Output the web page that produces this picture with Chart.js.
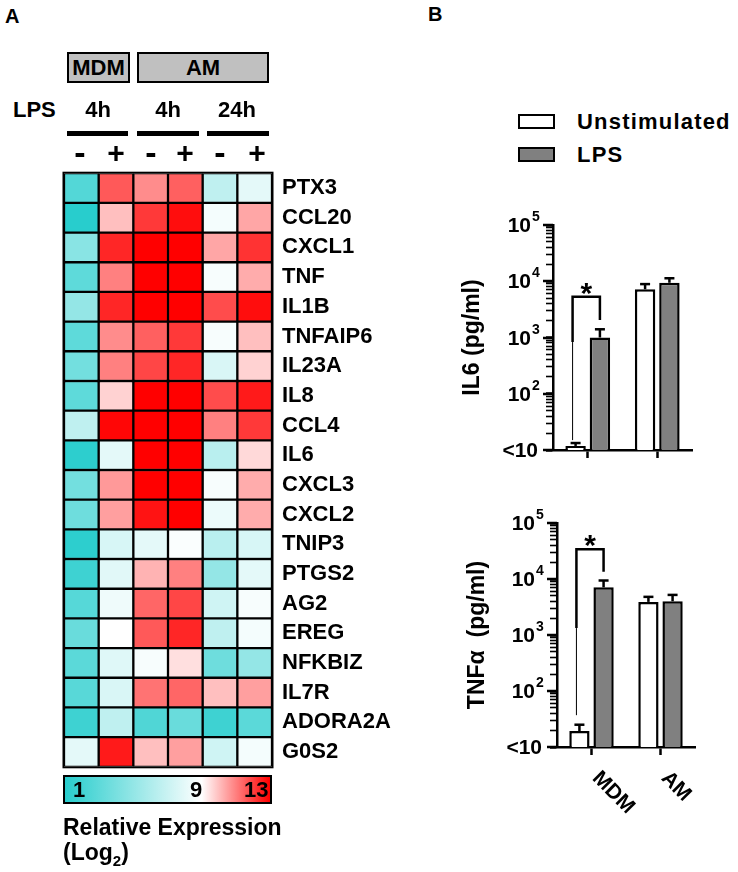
<!DOCTYPE html>
<html>
<head>
<meta charset="utf-8">
<script src="https://cdn.jsdelivr.net/npm/chart.js@4.4.1/dist/chart.umd.min.js"></script>
<style>
body { margin: 0; background: #fff; }
#fig { position: relative; width: 738px; height: 872px; overflow: hidden;
       font-family: "Liberation Sans", Arial, sans-serif; font-weight: bold; color: #000; }
.t { position: absolute; white-space: nowrap; line-height: 1; }
.box { position: absolute; box-sizing: border-box; border: 2px solid #000; }
canvas { position: absolute; }
</style>
</head>
<body>
<div id="fig">
  <canvas id="heat" width="430" height="640" style="left:0;top:150px"></canvas>
  <canvas id="il6" width="298" height="290" style="left:440px;top:200px"></canvas>
  <canvas id="tnf" width="298" height="372" style="left:440px;top:500px"></canvas>
</div>
<script>
// ---- heatmap data (log2 relative expression, 1..13) ----
const genes = ["PTX3", "CCL20", "CXCL1", "TNF", "IL1B", "TNFAIP6", "IL23A", "IL8", "CCL4", "IL6",
               "CXCL3", "CXCL2", "TNIP3", "PTGS2", "AG2", "EREG", "NFKBIZ", "IL7R", "ADORA2A", "G0S2"];
const mdm4hUnstim = [2.6, 1.0, 4.6, 3.0, 5.0, 3.0, 3.8, 3.0, 6.6, 1.2, 3.8, 3.6, 1.2, 1.8, 2.7, 3.4, 2.9, 2.8, 1.8, 8.0];
const mdm4hLps    = [11.6, 10.0, 12.4, 11.0, 12.4, 10.8, 11.0, 9.7, 12.9, 8.0, 10.6, 10.5, 7.5, 7.9, 8.4, 9.0, 7.8, 7.6, 6.6, 12.6];
const am4hUnstim  = [10.8, 12.1, 13, 13, 13, 11.5, 11.9, 13, 13, 13, 13, 12.7, 8.0, 10.2, 11.4, 11.6, 8.7, 11.2, 2.5, 10.0];
const am4hLps     = [11.5, 12.8, 13, 13, 13, 12.1, 12.4, 13, 13, 13, 13, 13, 8.8, 11.0, 11.9, 12.4, 9.5, 11.4, 3.4, 10.5];
const am24hUnstim = [6.6, 8.6, 10.4, 8.7, 11.8, 8.7, 7.6, 11.8, 11.0, 6.4, 8.7, 8.3, 6.4, 5.0, 7.2, 6.6, 3.6, 10.0, 1.8, 7.2];
const am24hLps    = [8.0, 10.4, 12.2, 10.3, 12.8, 10.0, 9.7, 12.6, 12.1, 9.6, 10.3, 10.3, 7.5, 8.0, 8.7, 8.6, 5.0, 10.5, 2.9, 8.6];
const heatColumns = [mdm4hUnstim, mdm4hLps, am4hUnstim, am4hLps, am24hUnstim, am24hLps];

// ---- cytokine data (pg/ml) ----
const cellTypes = ["MDM", "AM"];
const il6Unstim = [11.8, 7200];
const il6Lps = [1000, 9400];
const il6UnstimErr = [13.3, 8900];
const il6LpsErr = [1400, 11300];
const tnfUnstim = [19.3, 3900];
const tnfLps = [7100, 4000];
const tnfUnstimErr = [25, 4800];
const tnfLpsErr = [9400, 5200];
// significance bracket: top, right leg end, left leg end, thin line end
const il6Bracket = [5300, 2040, 830, 15];
const tnfBracket = [34000, 13500, 1330, 37];

const yMajor = [10, 100, 1000, 10000, 100000];
const yTickBase = ["<10", "10", "10", "10", "10"];
const yTickExp = ["", "2", "3", "4", "5"];

const FONT = '"Liberation Sans", Arial, sans-serif';
Chart.defaults.font.family = FONT;
Chart.defaults.color = "#000";

const TEAL = [40, 205, 205], WHITE = [255, 255, 255], RED = [255, 0, 0];
function exprColor(v) {
    let a, b, t;
    if (v <= 9) { a = TEAL; b = WHITE; t = (v - 1) / 8; }
    else { a = WHITE; b = RED; t = (v - 9) / 4; }
    const c = a.map((x, i) => Math.round(x + (b[i] - x) * t));
    return `rgb(${c.join(",")})`;
}

// ---- static text / boxes ----
const fig = document.getElementById("fig");
function put(html, x, cy, size, align = "left", extra = "") {
    const d = document.createElement("div");
    d.className = "t";
    d.innerHTML = html;
    d.style.cssText += `font-size:${size}px;top:${cy - size / 2}px;` + extra;
    if (align === "center") {
        d.style.left = (x - 100) + "px"; d.style.width = "200px"; d.style.textAlign = "center";
    } else d.style.left = x + "px";
    fig.appendChild(d);
}
function box(x, y, w, h, bg) {
    const d = document.createElement("div");
    d.className = "box";
    d.style.cssText += `left:${x}px;top:${y}px;width:${w}px;height:${h}px;background:${bg};`;
    fig.appendChild(d);
    return d;
}

put("A", 5, 16, 20);
put("B", 428, 14, 20);
box(67, 52, 63, 31, "#c0c0c0");
box(137, 52, 132, 31, "#c0c0c0");
put("MDM", 98.5, 68, 22, "center");
put("AM", 203, 68, 22, "center");
put("LPS", 13, 110, 22);
put("4h", 98, 110, 22, "center");
put("4h", 168, 110, 22, "center");
put("24h", 237, 110, 22, "center");
[[67, 61], [137, 62], [207, 62]].forEach(([x, w]) => box(x, 131, w, 5, "#000"));
[80, 151, 220].forEach(x => put("-", x, 152, 34, "center"));
[116, 185, 257].forEach(x => put("+", x, 153, 30, "center"));

box(63, 775, 209, 29, `linear-gradient(to right, rgb(${TEAL}) 0%, #fff 66.7%, #f00 100%)`);
put("1", 73, 790, 22);
put("9", 196, 790, 22, "center");
put("13", 244, 790, 22);
put("Relative Expression", 63, 827, 23);
put("(Log<sub style='font-size:15px'>2</sub>)", 63, 852, 23);

box(518, 114, 37, 15, "#fff");
box(518, 147, 37, 15, "#808080");
put("Unstimulated", 577, 122, 22, "left", "letter-spacing:1.2px;");
put("LPS", 577, 155, 22, "left", "letter-spacing:1.2px;");

// ---- heatmap ----
new Chart(document.getElementById("heat"), {
    type: "bar",
    data: {
        labels: genes,
        datasets: heatColumns.map(col => ({
            data: genes.map(() => 1),
            backgroundColor: col.map(exprColor),
            borderColor: "#000",
            borderWidth: 1.5,
            borderSkipped: false,
            barPercentage: 1,
            categoryPercentage: 1,
        })),
    },
    options: {
        indexAxis: "y",
        responsive: false,
        animation: false,
        layout: { padding: { left: 64, top: 16, bottom: 22, right: 18 } },
        plugins: { legend: { display: false }, tooltip: { enabled: false } },
        scales: {
            x: { stacked: true, min: 0, max: 6, display: false },
            y: {
                stacked: true,
                position: "right",
                grid: { display: false, drawTicks: false },
                border: { display: false },
                ticks: { font: { size: 22, weight: "bold" }, color: "#000", padding: 10 },
                afterFit(axis) { axis.width = 140; },
            },
        },
    },
    plugins: [{
        id: "frame",
        afterDatasetsDraw(chart) {
            const { ctx, chartArea: a } = chart;
            ctx.save();
            ctx.strokeStyle = "#000";
            ctx.lineWidth = 1.5;
            ctx.strokeRect(a.left - 0.75, a.top - 0.75, a.width + 1.5, a.height + 1.5);
            ctx.restore();
        },
    }],
});

// ---- bar charts ----
function line(ctx, x1, y1, x2, y2) {
    ctx.beginPath(); ctx.moveTo(x1, y1); ctx.lineTo(x2, y2); ctx.stroke();
}

function decor(errs, bracket, showX) {
    return {
        id: "decor",
        afterDraw(chart) {
            const { ctx, chartArea: a, scales: { x, y } } = chart;
            ctx.save();
            ctx.strokeStyle = "#000";
            ctx.fillStyle = "#000";
            // log axis: longer major ticks and 10^n labels
            yMajor.forEach((v, i) => {
                const py = Math.round(y.getPixelForValue(v));
                ctx.fillRect(a.left - 10, py - 1.25, 10, 2.5);
                ctx.textBaseline = "middle";
                ctx.font = `bold 21px ${FONT}`;
                ctx.textAlign = "right";
                if (yTickExp[i]) {
                    ctx.fillText(yTickBase[i], a.left - 22, py + 1);
                    ctx.font = `bold 14px ${FONT}`;
                    ctx.textAlign = "left";
                    ctx.fillText(yTickExp[i], a.left - 21, py - 8);
                } else {
                    ctx.fillText(yTickBase[i], a.left - 15, py + 1);
                }
            });
            // error bars
            ctx.lineWidth = 2.5;
            errs.forEach((err, d) => {
                chart.getDatasetMeta(d).data.forEach((bar, i) => {
                    const top = y.getPixelForValue(err[i]);
                    line(ctx, bar.x, bar.y, bar.x, top);
                    line(ctx, bar.x - 5, top, bar.x + 5, top);
                });
            });
            // significance bracket over MDM
            const lx = chart.getDatasetMeta(0).data[0].x - 3;
            const rx = chart.getDatasetMeta(1).data[0].x;
            const [topV, rightV, leftV, thinV] = bracket.map(v => y.getPixelForValue(v));
            ctx.lineWidth = 2.5;
            ctx.beginPath();
            ctx.moveTo(lx, leftV); ctx.lineTo(lx, topV); ctx.lineTo(rx, topV); ctx.lineTo(rx, rightV);
            ctx.stroke();
            ctx.lineWidth = 1;
            line(ctx, lx, leftV, lx, thinV);
            ctx.font = `bold 30px ${FONT}`;
            ctx.textAlign = "center";
            ctx.textBaseline = "alphabetic";
            ctx.fillText("*", (lx + rx) / 2, topV + 6);
            // rotated category labels
            if (showX) {
                ctx.font = `bold 21px ${FONT}`;
                ctx.textAlign = "left";
                ctx.textBaseline = "middle";
                chart.data.labels.forEach((lab, i) => {
                    const px = x.getPixelForValue(i);
                    ctx.save();
                    ctx.translate(px + 4, a.bottom + 28);
                    ctx.rotate(Math.PI / 4);
                    ctx.fillText(lab, 0, 0);
                    ctx.restore();
                });
            }
            ctx.restore();
        },
    };
}

// all 1..9 x 10^n positions for the log axis tick marks
function logTicks(axis) {
    const ticks = [];
    yMajor.forEach((v, i) => {
        ticks.push({ value: v, major: true });
        if (i < yMajor.length - 1) for (let m = 2; m <= 9; m++) ticks.push({ value: v * m, major: false });
    });
    axis.ticks = ticks;
}

function cytoChart(id, unstim, lps, errs, bracket, title, titlePad, axisW, xH, pad, showX) {
    new Chart(document.getElementById(id), {
        type: "bar",
        data: {
            labels: cellTypes,
            datasets: [
                { label: "Unstimulated", data: unstim, backgroundColor: "#fff" },
                { label: "LPS", data: lps, backgroundColor: "#808080" },
            ].map(d => Object.assign(d, {
                borderColor: "#000", borderWidth: 2.5,
                categoryPercentage: 0.7, barPercentage: 0.84,
            })),
        },
        options: {
            responsive: false,
            animation: false,
            layout: { padding: pad },
            plugins: { legend: { display: false }, tooltip: { enabled: false } },
            scales: {
                x: {
                    grid: { display: true, drawOnChartArea: false, drawTicks: true, offset: false,
                            tickLength: 8, tickWidth: 2.5, tickColor: "#000" },
                    border: { display: true, width: 2.5, color: "#000" },
                    ticks: { display: false },
                    afterFit(axis) { axis.height = xH; },
                },
                y: {
                    type: "logarithmic",
                    min: 10, max: 100000,
                    afterBuildTicks: logTicks,
                    grid: { display: true, drawOnChartArea: false, drawTicks: true,
                            tickLength: 7, tickColor: "#000",
                            tickWidth: c => (c.tick && c.tick.major ? 2.5 : 1.6) },
                    border: { display: true, width: 2.5, color: "#000" },
                    ticks: { display: false, autoSkip: false, major: { enabled: true } },
                    title: { display: true, text: title, color: "#000",
                             font: { size: 23, weight: "bold" }, padding: { top: titlePad } },
                    afterFit(axis) { axis.width = axisW; },
                },
            },
        },
        plugins: [decor(errs, bracket, showX)],
    });
}

cytoChart("il6", il6Unstim, il6Lps, [il6UnstimErr, il6LpsErr], il6Bracket,
          "IL6 (pg/ml)", 19, 113, 40, { top: 25, right: 46, bottom: 0, left: 0 }, false);
cytoChart("tnf", tnfUnstim, tnfLps, [tnfUnstimErr, tnfLpsErr], tnfBracket,
          "TNFα  (pg/ml)", 24, 117, 125, { top: 23, right: 43, bottom: 0, left: 0 }, true);
</script>
</body>
</html>
